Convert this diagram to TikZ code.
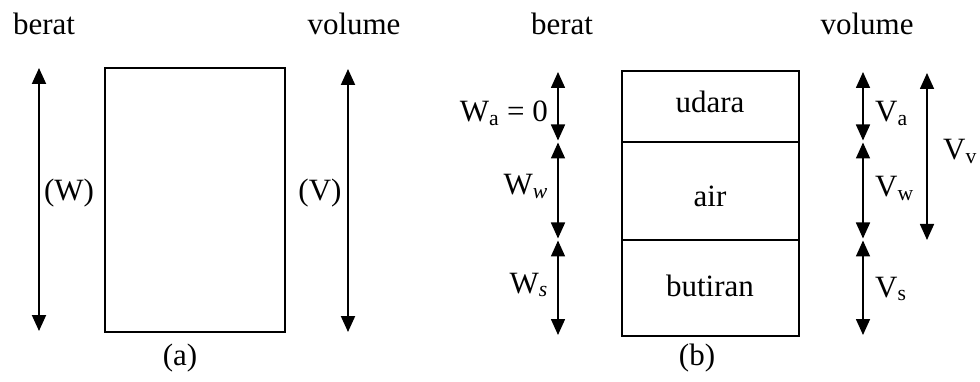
\documentclass[tikz,border=0pt]{standalone}
\usepackage{fontspec}
\setmainfont{Liberation Serif}
\usetikzlibrary{arrows.meta}
\begin{document}
\begin{tikzpicture}[x=1pt,y=-1pt,
  txt/.style={inner sep=0pt,font=\fontsize{31}{37}\selectfont},
  dimarrow/.style={line width=1.6pt,{Triangle[width=14pt,length=16pt]}-{Triangle[width=14pt,length=16pt]}},
  boxa/.style={draw,line width=1.4pt,inner sep=0pt},
  layer/.style={draw,line width=1.3pt,inner sep=0pt,minimum width=177pt,font=\fontsize{31}{37}\selectfont}]
\useasboundingbox (0,0) rectangle (980,382);
% ---------- (a) ----------
\node[txt,anchor=base] (bA) at (44,35) {berat};
\node[txt,anchor=base] (vA) at (354,35) {volume};
\node[boxa,minimum width=180pt,minimum height=264pt] (rA) at (195,200) {};
\coordinate (wt) at (39,68);
\coordinate (wb) at (39,331);
\draw[dimarrow,line width=2pt] (wt) -- (wb);
\node[txt] (W) at (69,193) {(W)};
\coordinate (vt) at (348,69);
\coordinate (vb) at (348,332);
\draw[dimarrow,line width=2pt] (vt) -- (vb);
\node[txt] (V) at (320,193) {(V)};
\node[txt,anchor=base] (la) at (180,365) {(a)};
% ---------- (b) ----------
\node[txt,anchor=base] (bB) at (562,35) {berat};
\node[txt,anchor=base] (vB) at (867,35) {volume};
\node[layer,minimum height=71pt] (ud) at (710.5,106.5) {};
\node[layer,minimum height=98pt] (ai) at (710.5,191) {};
\node[layer,minimum height=96pt] (bu) at (710.5,288) {};
\node[txt,anchor=base] (tud) at (710,113) {udara};
\node[txt,anchor=base] (tai) at (710,207) {air};
\node[txt,anchor=base] (tbu) at (710,296) {butiran};
% berat arrows
\coordinate (w0) at (558,72);
\coordinate (w1) at (558,140.5);
\coordinate (w2) at (558,142.5);
\coordinate (w3) at (558,238.5);
\coordinate (w4) at (558,240.5);
\coordinate (w5) at (558,335);
\draw[dimarrow] (w0) -- (w1);
\draw[dimarrow] (w2) -- (w3);
\draw[dimarrow] (w4) -- (w5);
\node[txt,anchor=base east] (Wa) at (548,122) {W\textsubscript{a} = 0};
\node[txt,anchor=base east] (Ww) at (548,195) {W\textsubscript{\itshape w}};
\node[txt,anchor=base east] (Ws) at (548,293) {W\textsubscript{\itshape s}};
% volume arrows
\coordinate (v0) at (863,72);
\coordinate (v1) at (863,140.5);
\coordinate (v2) at (863,142.5);
\coordinate (v3) at (863,238.5);
\coordinate (v4) at (863,240.5);
\coordinate (v5) at (863,335);
\draw[dimarrow] (v0) -- (v1);
\draw[dimarrow] (v2) -- (v3);
\draw[dimarrow] (v4) -- (v5);
\coordinate (vv0) at (927,73);
\coordinate (vv1) at (927,240);
\draw[dimarrow] (vv0) -- (vv1);
\node[txt,anchor=base west] (Va) at (875,122) {V\textsubscript{a}};
\node[txt,anchor=base west] (Vw) at (875,197) {V\textsubscript{w}};
\node[txt,anchor=base west] (Vs) at (875,297) {V\textsubscript{s}};
\node[txt,anchor=base west] (Vv) at (943,160) {V\textsubscript{v}};
\node[txt,anchor=base] (lb) at (697,365) {(b)};
\end{tikzpicture}
\end{document}
